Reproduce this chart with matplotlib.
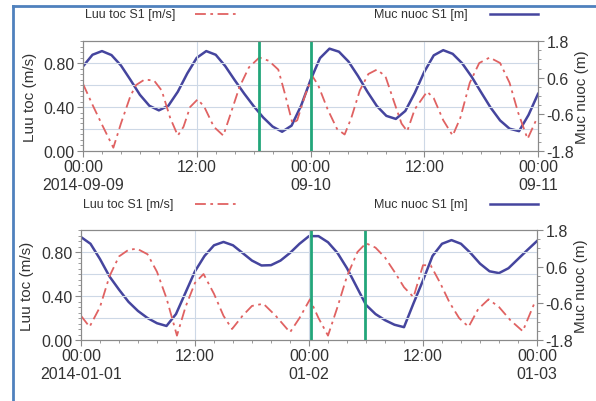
import matplotlib.pyplot as plt
from matplotlib.lines import Line2D
from matplotlib.ticker import MultipleLocator

plt.rcParams['font.family'] = ['Liberation Sans', 'DejaVu Sans']

# --- data (hours since 00:00 of first day) ---
hours = list(range(49))

# top panel: 2014-09-09 .. 2014-09-11
top_level = [0.97, 1.35, 1.47, 1.34, 1.00, 0.53, 0.04, -0.32, -0.47, -0.32,
             0.14, 0.74, 1.25, 1.47, 1.35, 0.98, 0.52, 0.08, -0.33, -0.70,
             -1.00, -1.17, -0.97, -0.32, 0.52, 1.24, 1.55, 1.45, 1.13, 0.66,
             0.14, -0.33, -0.65, -0.75, -0.49, 0.10, 0.79, 1.33, 1.50, 1.38,
             1.07, 0.63, 0.12, -0.38, -0.80, -1.07, -1.15, -0.62, 0.07]
top_speed_h = [0, 1, 2, 3.2, 4, 5, 5.6, 6.5, 7.5, 8.3, 9.2, 10.0, 10.6, 11.3,
               12.1, 12.8, 13.8, 14.8, 15.5, 16.5, 17.5, 18.6, 19.6, 20.6,
               21.3, 22.1, 22.6, 23.4, 24.2, 24.8, 25.8, 26.8, 27.6, 28.3,
               29.2, 30.1, 31.0, 31.9, 32.8, 33.6, 34.2, 35.0, 36.3, 37.0,
               38.0, 39.0, 39.8, 40.8, 41.8, 42.9, 44.0, 45.0, 45.9, 46.9, 47.9]
top_speed = [0.61, 0.42, 0.24, 0.03, 0.25, 0.50, 0.60, 0.65, 0.64, 0.55, 0.30,
             0.14, 0.22, 0.40, 0.47, 0.40, 0.22, 0.14, 0.32, 0.58, 0.76, 0.85,
             0.82, 0.74, 0.52, 0.25, 0.28, 0.50, 0.68, 0.60, 0.38, 0.20, 0.15,
             0.30, 0.55, 0.70, 0.74, 0.68, 0.45, 0.25, 0.18, 0.38, 0.54, 0.48,
             0.28, 0.14, 0.30, 0.62, 0.80, 0.85, 0.80, 0.62, 0.35, 0.11, 0.30]
top_marks = [18.6, 24.1]
top_labels = ['00:00\n2014-09-09', '12:00', '00:00\n09-10', '12:00', '00:00\n09-11']

# bottom panel: 2014-01-01 .. 2014-01-03
bot_level = [1.57, 1.35, 0.85, 0.28, -0.15, -0.55, -0.85, -1.08, -1.25, -1.34,
             -0.95, -0.25, 0.45, 0.95, 1.30, 1.41, 1.30, 1.05, 0.80, 0.64,
             0.65, 0.80, 1.05, 1.35, 1.60, 1.60, 1.40, 1.05, 0.55, -0.05,
             -0.65, -0.95, -1.15, -1.30, -1.38, -0.60, 0.15, 0.95, 1.35, 1.47,
             1.35, 1.05, 0.70, 0.45, 0.39, 0.55, 0.85, 1.15, 1.44]
bot_speed_h = [0, 0.9, 2.0, 3.0, 4.0, 5.0, 5.9, 7.0, 8.0, 9.0, 10.1, 11.0, 12.0,
               12.9, 14.0, 15.0, 15.9, 17.0, 18.0, 19.2, 20.5, 22.0, 23.0, 24.1,
               25.0, 26.0, 27.0, 28.0, 29.1, 30.0, 31.0, 32.0, 33.0, 34.0, 35.0,
               36.0, 36.8, 37.8, 38.8, 39.8, 40.8, 41.8, 42.9, 44.0, 45.2, 46.5,
               47.8]
bot_speed = [0.22, 0.12, 0.30, 0.58, 0.76, 0.82, 0.83, 0.78, 0.62, 0.38, 0.04,
             0.30, 0.52, 0.60, 0.42, 0.22, 0.10, 0.22, 0.31, 0.33, 0.22, 0.07,
             0.20, 0.37, 0.20, 0.04, 0.30, 0.58, 0.80, 0.88, 0.84, 0.75, 0.62,
             0.48, 0.39, 0.68, 0.68, 0.52, 0.34, 0.20, 0.12, 0.28, 0.37, 0.30,
             0.18, 0.08, 0.35]
bot_marks = [24.2, 29.9]
bot_labels = ['00:00\n2014-01-01', '12:00', '00:00\n01-02', '12:00', '00:00\n01-03']

blue = '#45459e'
red = '#e06262'
green = '#22a67a'
grid_c = '#cdd8e6'
txt = '#333333'
red_ls = (0, (6, 2.5, 1.5, 2.5))

fig = plt.figure(figsize=(5.96, 4.02), dpi=100)


def panel(rect, level, sp_h, sp, marks, labels, leg_y):
    ax = fig.add_axes(rect)
    ax2 = ax.twinx()
    ax.set_zorder(ax2.get_zorder() + 1)
    ax.patch.set_visible(False)

    ax.plot(sp_h, sp, color=red, lw=1.3, linestyle=red_ls)
    ax2.plot(hours, level, color=blue, lw=1.8, solid_joinstyle='round')
    for m in marks:
        ax.axvline(m, color=green, lw=2)

    ax.set_xlim(0, 48)
    ax.set_ylim(0, 1.0)
    ax2.set_ylim(-1.8, 1.8)
    ax.set_xticks([0, 12, 24, 36, 48])
    ax.set_xticklabels(labels)
    ax.xaxis.set_minor_locator(MultipleLocator(2))
    ax.set_yticks([0, 0.4, 0.8])
    ax.set_yticklabels(['0.00', '0.40', '0.80'])
    ax.yaxis.set_minor_locator(MultipleLocator(0.05))
    ax2.set_yticks([-1.8, -0.6, 0.6, 1.8])
    ax2.set_yticklabels(['-1.8', '-0.6', '0.6', '1.8'])
    ax2.yaxis.set_minor_locator(MultipleLocator(0.3))

    for y in [0.2, 0.4, 0.6, 0.8]:
        ax.axhline(y, color=grid_c, lw=0.8, zorder=0)
    for x in [12, 24, 36]:
        ax.axvline(x, color=grid_c, lw=0.8, zorder=0)

    for a in (ax, ax2):
        for s in a.spines.values():
            s.set_color('#8a8a8a')
        a.tick_params(which='major', length=4, color='#8a8a8a',
                      labelsize=11.5, labelcolor=txt, pad=2)
        a.tick_params(which='minor', length=2, color='#8a8a8a')
    ax.tick_params(axis='x', pad=2)

    ax.set_ylabel('Luu toc (m/s)', fontsize=11, color=txt)
    ax.yaxis.set_label_coords(-0.102, 0.5)
    ax2.set_ylabel('Muc nuoc (m)', fontsize=11, color=txt, rotation=90)
    ax2.yaxis.set_label_coords(1.082, 0.5)

    # legend row above the panel
    fig.text(rect[0] + 0.003, leg_y, 'Luu toc S1 [m/s]', fontsize=9,
             color=txt, va='center')
    fig.add_artist(Line2D([0.327, 0.403], [leg_y, leg_y], color=red, lw=1.3,
                          linestyle=red_ls))
    fig.text(0.628, leg_y, 'Muc nuoc S1 [m]', fontsize=9, color=txt,
             va='center')
    fig.add_artist(Line2D([0.822, 0.902], [leg_y, leg_y], color=blue, lw=1.8))
    return ax


panel([0.1393, 0.6219, 0.7634, 0.2736], top_level, top_speed_h, top_speed,
      top_marks, top_labels, 0.962)
panel([0.1359, 0.1517, 0.7651, 0.2736], bot_level, bot_speed_h, bot_speed,
      bot_marks, bot_labels, 0.490)

# blue frame on the left and top
frame_c = '#4f81bd'
fig.add_artist(Line2D([0.0218, 0.0218], [0.0, 0.9826], color=frame_c, lw=2))
fig.add_artist(Line2D([0.0218, 1.0], [0.9826, 0.9826], color=frame_c, lw=2))

plt.savefig('out.png', dpi=100)
